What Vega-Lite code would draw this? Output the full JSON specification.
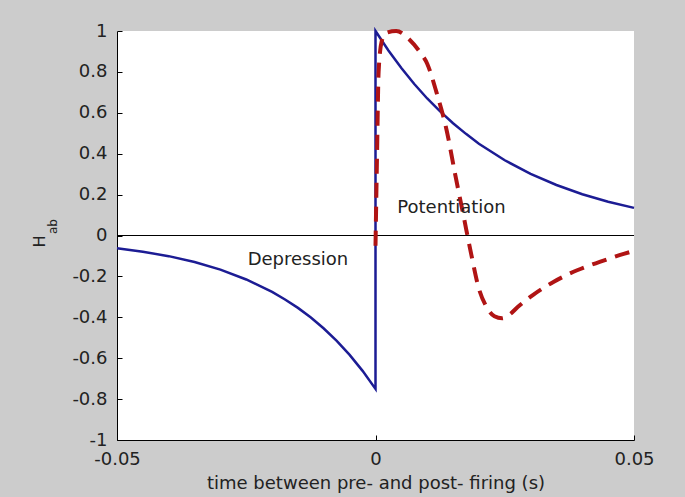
{
  "$schema": "https://vega.github.io/schema/vega-lite/v6.json",
  "width": 517,
  "height": 409,
  "autosize": "none",
  "padding": {"left": 117, "top": 31, "right": 51, "bottom": 57},
  "background": "#cccccc",
  "config": {
    "view": {"fill": "white", "stroke": null},
    "font": "DejaVu Sans",
    "axis": {
      "domainColor": "black",
      "domainWidth": 1,
      "tickColor": "black",
      "tickWidth": 1,
      "tickSize": -5,
      "ticks": true,
      "grid": false,
      "zindex": 1,
      "labelFont": "DejaVu Sans",
      "labelFontSize": 18,
      "labelColor": "#222222",
      "titleFont": "DejaVu Sans",
      "titleFontWeight": "normal",
      "titleColor": "#222222"
    }
  },
  "datasets": {
    "blue": [
      {"t": -0.05, "h": -0.062, "o": 0},
      {"t": -0.045, "h": -0.079, "o": 1},
      {"t": -0.04, "h": -0.101, "o": 2},
      {"t": -0.035, "h": -0.13, "o": 3},
      {"t": -0.03, "h": -0.167, "o": 4},
      {"t": -0.025, "h": -0.215, "o": 5},
      {"t": -0.02, "h": -0.276, "o": 6},
      {"t": -0.0175, "h": -0.313, "o": 7},
      {"t": -0.015, "h": -0.354, "o": 8},
      {"t": -0.0125, "h": -0.401, "o": 9},
      {"t": -0.01, "h": -0.455, "o": 10},
      {"t": -0.0075, "h": -0.515, "o": 11},
      {"t": -0.005, "h": -0.584, "o": 12},
      {"t": -0.0025, "h": -0.662, "o": 13},
      {"t": 0, "h": -0.75, "o": 14},
      {"t": 0, "h": 1, "o": 15},
      {"t": 0.0025, "h": 0.905, "o": 16},
      {"t": 0.005, "h": 0.819, "o": 17},
      {"t": 0.0075, "h": 0.741, "o": 18},
      {"t": 0.01, "h": 0.67, "o": 19},
      {"t": 0.0125, "h": 0.607, "o": 20},
      {"t": 0.015, "h": 0.549, "o": 21},
      {"t": 0.0175, "h": 0.497, "o": 22},
      {"t": 0.02, "h": 0.449, "o": 23},
      {"t": 0.025, "h": 0.368, "o": 24},
      {"t": 0.03, "h": 0.301, "o": 25},
      {"t": 0.035, "h": 0.247, "o": 26},
      {"t": 0.04, "h": 0.202, "o": 27},
      {"t": 0.045, "h": 0.165, "o": 28},
      {"t": 0.05, "h": 0.135, "o": 29}
    ],
    "red": [
      {"t": 0, "h": -0.05, "o": 0},
      {"t": 0.0003, "h": 0.4, "o": 1},
      {"t": 0.0006, "h": 0.8, "o": 2},
      {"t": 0.0012, "h": 0.95, "o": 3},
      {"t": 0.002, "h": 0.99, "o": 4},
      {"t": 0.004, "h": 1.0, "o": 5},
      {"t": 0.0065, "h": 0.96, "o": 6},
      {"t": 0.0085, "h": 0.9, "o": 7},
      {"t": 0.01, "h": 0.84, "o": 8},
      {"t": 0.0118, "h": 0.7, "o": 9},
      {"t": 0.0138, "h": 0.51, "o": 10},
      {"t": 0.0154, "h": 0.3, "o": 11},
      {"t": 0.017, "h": 0.1, "o": 12},
      {"t": 0.0185, "h": -0.09, "o": 13},
      {"t": 0.02, "h": -0.26, "o": 14},
      {"t": 0.0215, "h": -0.35, "o": 15},
      {"t": 0.023, "h": -0.395, "o": 16},
      {"t": 0.0245, "h": -0.405, "o": 17},
      {"t": 0.026, "h": -0.385, "o": 18},
      {"t": 0.0275, "h": -0.35, "o": 19},
      {"t": 0.0305, "h": -0.29, "o": 20},
      {"t": 0.0345, "h": -0.226, "o": 21},
      {"t": 0.039, "h": -0.17, "o": 22},
      {"t": 0.0435, "h": -0.128, "o": 23},
      {"t": 0.048, "h": -0.09, "o": 24},
      {"t": 0.05, "h": -0.075, "o": 25}
    ],
    "labels": [
      {"t": -0.015, "h": -0.12, "label": "Depression"},
      {"t": 0.0147, "h": 0.134, "label": "Potentiation"}
    ],
    "zero": [
      {"t0": -0.05, "t1": 0.05, "h": 0}
    ]
  },
  "layer": [
    {
      "data": {"name": "blue"},
      "mark": {"type": "line", "color": "#1c1c94", "strokeWidth": 2.5},
      "encoding": {
        "x": {
          "field": "t", "type": "quantitative",
          "scale": {"domain": [-0.05, 0.05], "nice": false},
          "axis": {
            "values": [-0.05, 0, 0.05],
            "labelExpr": "'' + datum.value",
            "labelPadding": 15,
            "labelFlush": false,
            "title": "time between pre- and post- firing  (s)",
            "titleFontSize": 18,
            "titleY": 43,
            "titleBaseline": "middle"
          }
        },
        "y": {
          "field": "h", "type": "quantitative",
          "scale": {"domain": [-1, 1], "nice": false},
          "axis": {
            "values": [-1, -0.8, -0.6, -0.4, -0.2, 0, 0.2, 0.4, 0.6, 0.8, 1],
            "labelExpr": "'' + datum.value",
            "labelPadding": 15,
            "labelFlush": false,
            "title": "H",
            "titleFontSize": 16,
            "titleAngle": -90,
            "titleX": -78,
            "titleY": 210,
            "titleAlign": "center",
            "titleBaseline": "middle"
          }
        },
        "order": {"field": "o", "type": "quantitative"}
      }
    },
    {
      "data": {"name": "zero"},
      "mark": {"type": "rule", "color": "black", "strokeWidth": 1},
      "encoding": {
        "x": {"field": "t0", "type": "quantitative", "scale": {"domain": [-0.05, 0.05], "nice": false}},
        "x2": {"field": "t1"},
        "y": {"field": "h", "type": "quantitative", "scale": {"domain": [-1, 1], "nice": false}, "axis": null}
      }
    },
    {
      "mark": {"type": "rule", "color": "#222244", "strokeWidth": 1},
      "encoding": {
        "x": {"datum": 0, "type": "quantitative", "scale": {"domain": [-0.05, 0.05], "nice": false}}
      }
    },
    {
      "data": {"name": "red"},
      "mark": {"type": "line", "color": "#b01414", "strokeWidth": 4, "strokeDash": [15, 9], "interpolate": "monotone"},
      "encoding": {
        "x": {"field": "t", "type": "quantitative", "scale": {"domain": [-0.05, 0.05], "nice": false}},
        "y": {
          "field": "h", "type": "quantitative",
          "scale": {"domain": [-1, 1], "nice": false},
          "axis": {
            "orient": "left",
            "labels": false,
            "ticks": false,
            "domain": false,
            "title": "ab",
            "titleFontSize": 12,
            "titleAngle": -90,
            "titleX": -65,
            "titleY": 195,
            "titleAlign": "center",
            "titleBaseline": "middle"
          }
        },
        "order": {"field": "o", "type": "quantitative"}
      }
    },
    {
      "data": {"name": "labels"},
      "mark": {"type": "text", "fontSize": 18, "color": "#222222", "font": "DejaVu Sans"},
      "encoding": {
        "x": {"field": "t", "type": "quantitative", "scale": {"domain": [-0.05, 0.05], "nice": false}},
        "y": {"field": "h", "type": "quantitative", "scale": {"domain": [-1, 1], "nice": false}, "axis": null},
        "text": {"field": "label"}
      }
    }
  ],
  "resolve": {"axis": {"y": "independent"}}
}
